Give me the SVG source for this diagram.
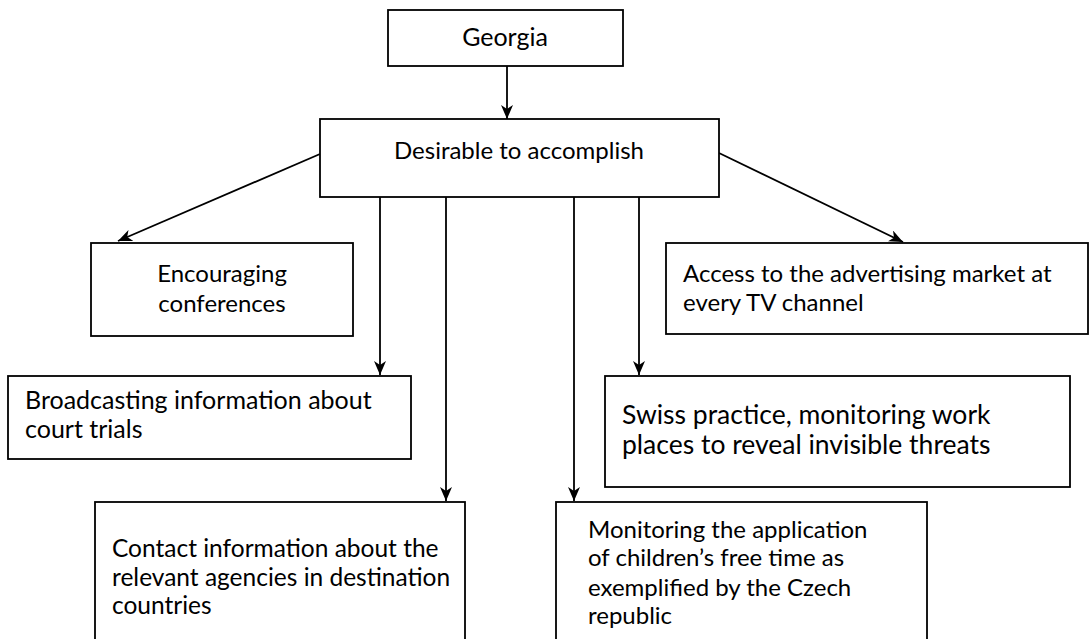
<svg xmlns="http://www.w3.org/2000/svg" width="1091" height="639" viewBox="0 0 1091 639">
  <defs>
    <marker id="arrow" viewBox="0 0 14 12" refX="14" refY="6" markerWidth="14" markerHeight="12" markerUnits="userSpaceOnUse" orient="auto">
      <path d="M0,0 L14,6 L0,12 L4,6 Z" fill="#000"/>
    </marker>
  </defs>
  <style>
    rect { fill: #fff; stroke: #000; stroke-width: 1.8; }
    text { font-family: Lato, "Open Sans", "Liberation Sans", sans-serif; font-size: 24px; fill: #000; }
    .c { text-anchor: middle; }
    .big { font-size: 26.5px; }
    .m { font-size: 24.5px; }
    .l { font-size: 25px; }
    #connectors line { stroke: #000; stroke-width: 1.8; marker-end: url(#arrow); }
  </style>
  <rect x="0" y="0" width="1091" height="639" style="stroke:none"/>

  <g id="connectors">
    <line x1="507" y1="66" x2="507" y2="119"/>
    <line x1="320" y1="154" x2="118" y2="241"/>
    <line x1="380" y1="197" x2="380" y2="375"/>
    <line x1="446" y1="197" x2="446" y2="501"/>
    <line x1="574" y1="197" x2="574" y2="501"/>
    <line x1="639" y1="197" x2="639" y2="375"/>
    <line x1="719" y1="153" x2="903" y2="242"/>
  </g>

  <g id="georgia">
    <rect x="388" y="10" width="235" height="56"/>
    <text class="c l" x="505" y="46">Georgia</text>
  </g>

  <g id="desirable">
    <rect x="320" y="119" width="399" height="78"/>
    <text class="c" x="519" y="159">Desirable to accomplish</text>
  </g>

  <g id="encouraging">
    <rect x="91" y="243" width="262" height="93"/>
    <text class="c" x="222" y="282">Encouraging</text>
    <text class="c" x="222" y="312">conferences</text>
  </g>

  <g id="broadcasting">
    <rect x="8" y="376" width="403" height="83"/>
    <text class="l" x="25" y="409">Broadcasting information about</text>
    <text class="l" x="25" y="438">court trials</text>
  </g>

  <g id="access">
    <rect x="666" y="243" width="422" height="91"/>
    <text x="683" y="282">Access to the advertising market at</text>
    <text x="683" y="311">every TV channel</text>
  </g>

  <g id="swiss">
    <rect x="605" y="376" width="465" height="111"/>
    <text class="big" x="622" y="424">Swiss practice, monitoring work</text>
    <text class="big" x="622" y="454">places to reveal invisible threats</text>
  </g>

  <g id="contact">
    <rect x="95" y="502" width="370" height="150"/>
    <text class="m" x="112" y="557">Contact information about the</text>
    <text class="m" x="112" y="586">relevant agencies in destination</text>
    <text class="m" x="112" y="614">countries</text>
  </g>

  <g id="monitoring">
    <rect x="556" y="502" width="371" height="150"/>
    <text x="588" y="538">Monitoring the application</text>
    <text x="588" y="566">of children’s free time as</text>
    <text x="588" y="596">exemplified by the Czech</text>
    <text x="588" y="624">republic</text>
  </g>
</svg>
